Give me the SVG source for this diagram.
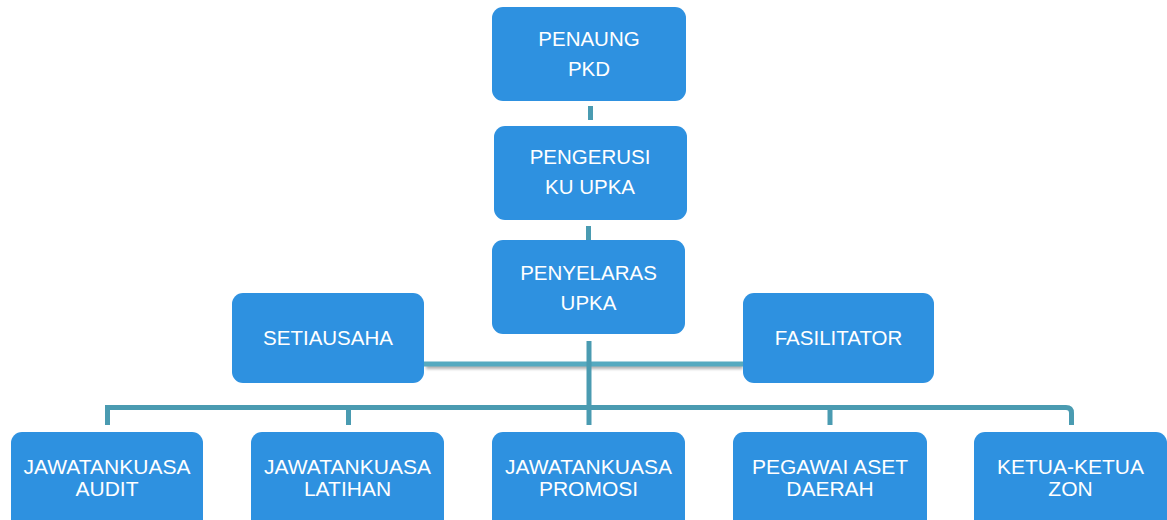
<svg xmlns="http://www.w3.org/2000/svg" width="1167" height="520" viewBox="0 0 1167 520">
<defs>
<style>
.box{fill:#2E91E0;}
.t{fill:#FFFFFF;font-family:"Liberation Sans",Arial,sans-serif;font-size:20.5px;text-anchor:middle;}
.tb{fill:#FFFFFF;font-family:"Liberation Sans",Arial,sans-serif;font-size:21px;text-anchor:middle;}
.c{stroke:#4A9BB1;stroke-width:5;fill:none;}
</style>
<filter id="sh" filterUnits="userSpaceOnUse" x="400" y="350" width="370" height="30">
<feGaussianBlur stdDeviation="1.5"/>
</filter>
</defs>
<g id="connectors">
<line class="c" x1="590.5" y1="106" x2="590.5" y2="120" stroke="#3E8D9D"/>
<line class="c" x1="588.5" y1="226" x2="588.5" y2="240"/>
<rect x="426" y="364" width="317" height="5" fill="#000000" opacity="0.3" filter="url(#sh)"/>
<rect x="424" y="361.5" width="319" height="5" fill="#56AAC0"/>
<line class="c" x1="589" y1="341" x2="589" y2="425"/>
<path class="c" d="M107.5,425 V407.5 H1066 Q1071.5,407.5 1071.5,413 V425"/>
<line class="c" x1="348.5" y1="407.5" x2="348.5" y2="425"/>
<line class="c" x1="830" y1="407.5" x2="830" y2="425"/>
</g>
<g id="n-penaung"><rect class="box" x="492" y="7" width="194" height="94" rx="11"/><text class="t" x="589" y="46">PENAUNG</text><text class="t" x="589" y="76">PKD</text></g>
<g id="n-pengerusi"><rect class="box" x="494" y="126" width="193" height="94" rx="11"/><text class="t" x="590" y="164">PENGERUSI</text><text class="t" x="590" y="194">KU UPKA</text></g>
<g id="n-penyelaras"><rect class="box" x="492" y="240" width="193" height="94" rx="11"/><text class="t" x="588.5" y="280">PENYELARAS</text><text class="t" x="588.5" y="310">UPKA</text></g>
<g id="n-setiausaha"><rect class="box" x="232" y="293" width="192" height="90" rx="11"/><text class="t" x="328" y="345">SETIAUSAHA</text></g>
<g id="n-fasilitator"><rect class="box" x="743" y="293" width="191" height="90" rx="11"/><text class="t" x="838.5" y="345">FASILITATOR</text></g>
<g id="n-audit"><rect class="box" x="11" y="432" width="192" height="100" rx="11"/><text class="tb" x="107" y="474">JAWATANKUASA</text><text class="tb" x="107" y="496">AUDIT</text></g>
<g id="n-latihan"><rect class="box" x="251" y="432" width="193" height="100" rx="11"/><text class="tb" x="347.5" y="474">JAWATANKUASA</text><text class="tb" x="347.5" y="496">LATIHAN</text></g>
<g id="n-promosi"><rect class="box" x="492" y="432" width="193" height="100" rx="11"/><text class="tb" x="588.5" y="474">JAWATANKUASA</text><text class="tb" x="588.5" y="496">PROMOSI</text></g>
<g id="n-pegawai"><rect class="box" x="733" y="432" width="194" height="100" rx="11"/><text class="tb" x="830" y="474">PEGAWAI ASET</text><text class="tb" x="830" y="496">DAERAH</text></g>
<g id="n-ketua"><rect class="box" x="974" y="432" width="193" height="100" rx="11"/><text class="tb" x="1070.5" y="474">KETUA-KETUA</text><text class="tb" x="1070.5" y="496">ZON</text></g>
</svg>
